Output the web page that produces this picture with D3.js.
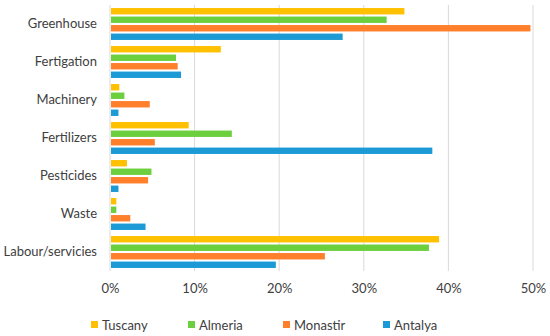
<!DOCTYPE html>
<html>
<head>
<meta charset="utf-8">
<script src="https://cdn.jsdelivr.net/npm/d3@7"></script>
<style>
  body { margin: 0; background: #fff; }
  text { font-family: Lato, "Open Sans", sans-serif; fill: #404040; }
</style>
</head>
<body>
<div id="chart"></div>
<script>
// data
var categories = ['Greenhouse', 'Fertigation', 'Machinery', 'Fertilizers', 'Pesticides', 'Waste', 'Labour/servicies'];
var seriesNames = ['Tuscany', 'Almeria', 'Monastir', 'Antalya'];
var tuscany  = [34.8, 13.1, 1.1, 9.3, 2.0, 0.75, 38.9];
var almeria  = [32.7, 7.8, 1.7, 14.4, 4.9, 0.75, 37.7];
var monastir = [49.7, 8.0, 4.7, 5.3, 4.5, 2.4, 25.4];
var antalya  = [27.5, 8.4, 1.0, 38.1, 1.0, 4.2, 19.6];
var xTicks = [0, 10, 20, 30, 40, 50];

var series = [tuscany, almeria, monastir, antalya];
var colors = ['#FFC000', '#6CCF3E', '#FF7F2A', '#1B9AD6'];

var w = 550, h = 336;
var margin = {top: 5, right: 17, bottom: 65, left: 110};
var innerW = w - margin.left - margin.right,
    innerH = h - margin.top - margin.bottom;

var svg = d3.select('#chart').append('svg')
    .attr('width', w)
    .attr('height', h);
var g = svg.append('g')
    .attr('transform', 'translate(' + [margin.left, margin.top] + ')');

//scales
var x = d3.scaleLinear().domain([0, 50]).range([0, innerW]);
var y = d3.scaleBand().domain(categories).range([0, innerH]).paddingInner(0.16).paddingOuter(0.08);
var ySub = d3.scaleBand().domain(seriesNames).range([0, y.bandwidth()]).paddingInner(0.25);

//gridlines
g.selectAll('line.grid')
    .data(xTicks)
  .enter().append('line')
    .attr('class', 'grid')
    .attr('x1', function(d){return x(d)})
    .attr('x2', function(d){return x(d)})
    .attr('y1', 0)
    .attr('y2', innerH)
    .attr('stroke', '#d9d9d9')
    .attr('stroke-width', 1);

//bars
var rows = [];
categories.forEach(function(c, i) {
    seriesNames.forEach(function(s, j) {
        rows.push({cat: c, name: s, value: series[j][i], color: colors[j]});
    });
});

g.selectAll('rect.bar')
    .data(rows)
  .enter().append('rect')
    .attr('class', 'bar')
    .attr('x', x(0) + 1)
    .attr('y', function(d){return y(d.cat) + ySub(d.name)})
    .attr('width', function(d){return x(d.value) - x(0) - 1})
    .attr('height', ySub.bandwidth())
    .attr('fill', function(d){return d.color});

//axes
var xAxis = d3.axisBottom(x)
    .tickValues(xTicks)
    .tickSize(0)
    .tickPadding(13)
    .tickFormat(function(d){return d + '%'});
var xg = g.append('g')
    .attr('transform', 'translate(0,' + innerH + ')')
    .call(xAxis);
xg.select('.domain').remove();
xg.selectAll('text').style('font-size', '13px').style('font-family', 'Lato').style('fill', '#404040');

var yAxis = d3.axisLeft(y).tickSize(0).tickPadding(13);
var yg = g.append('g').call(yAxis);
yg.select('.domain').remove();
yg.selectAll('text').style('font-size', '13px').style('font-family', 'Lato').style('fill', '#404040');

//legend
var legendX = [91, 188, 283, 383];
var legend = svg.selectAll('g.legend')
    .data(seriesNames)
  .enter().append('g')
    .attr('class', 'legend')
    .attr('transform', function(d, i){return 'translate(' + [legendX[i], 321] + ')'});
legend.append('rect')
    .attr('width', 7)
    .attr('height', 7)
    .attr('fill', function(d, i){return colors[i]});
legend.append('text')
    .attr('x', 11)
    .attr('y', 4)
    .attr('dy', '0.35em')
    .style('font-size', '13px')
    .text(function(d){return d});
</script>
</body>
</html>
